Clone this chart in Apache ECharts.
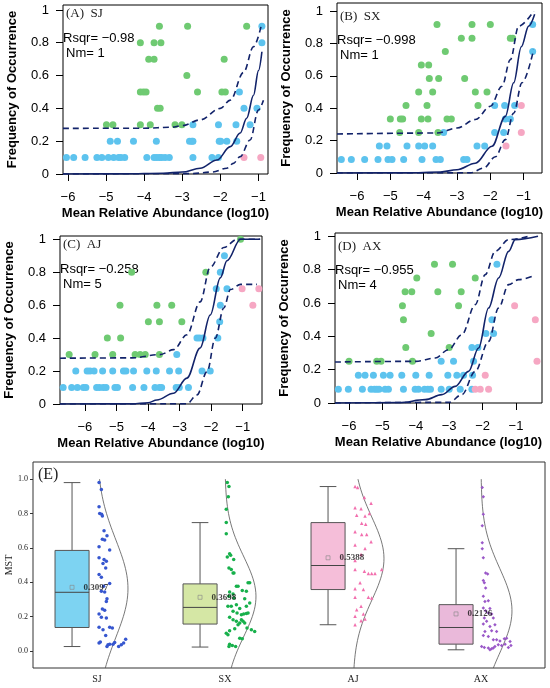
<!DOCTYPE html>
<html>
<head>
<meta charset="utf-8">
<script src="https://cdn.jsdelivr.net/npm/echarts@6/dist/echarts.min.js"></script>
<style>
html, body { margin: 0; padding: 0; background: #fff; }
#main { width: 550px; height: 688px; }
</style>
</head>
<body>
<div id="main"></div>
<script>
// tick values shared by the four neutral-model panels
var xTicks = [-6, -5, -4, -3, -2, -1];
var yTicks = [0, 0.2, 0.4, 0.6, 0.8, 1];

var panelTags = ['(A)  SJ', '(B)  SX', '(C)  AJ', '(D)  AX'];
var rsqrText = ['\u22120.98', '\u22120.998', '\u22120.258', '\u22120.955'];
var nmText = ['1', '1', '5', '4'];

// (A) SJ
var sjBlue = [[-6.04,0.1],[-5.85,0.1],[-5.55,0.1],[-5.24,0.1],[-5.11,0.1],[-4.94,0.1],[-4.80,0.1],[-4.67,0.1],[-4.61,0.1],[-4.51,0.1],
  [-3.93,0.1],[-3.74,0.1],[-3.67,0.1],[-3.60,0.1],[-3.54,0.1],[-3.45,0.1],[-3.34,0.1],[-2.72,0.1],[-2.22,0.1],[-2.05,0.1],
  [-4.89,0.2],[-4.70,0.2],[-4.28,0.2],[-3.68,0.2],[-2.81,0.2],[-2.75,0.2],[-2.72,0.2],[-2.03,0.2],[-1.99,0.2],[-1.83,0.2],[-1.57,0.2],
  [-2.72,0.3],[-2.05,0.3],[-1.59,0.3],[-1.22,0.3],[-1.38,0.4],[-1.04,0.4],[-1.50,0.5],[-0.91,0.8],[-0.91,0.9]];
var sjGreen = [[-4.99,0.3],[-4.82,0.3],[-4.10,0.3],[-3.84,0.3],[-3.19,0.3],[-3.01,0.3],[-3.65,0.4],[-3.58,0.4],
  [-4.10,0.5],[-4.02,0.5],[-3.95,0.5],[-2.60,0.5],[-1.96,0.5],[-1.87,0.5],[-2.88,0.6],[-3.88,0.7],[-3.74,0.7],[-1.90,0.7],
  [-4.10,0.8],[-3.74,0.8],[-3.56,0.8],[-3.60,0.9],[-2.86,0.9],[-1.31,0.9]];
var sjPink = [[-1.38,0.1],[-0.94,0.1]];
var sjFit = [[-6.13,0],[-4.5,0.001],[-3.5,0.005],[-3,0.012],[-2.53,0.035],[-2.09,0.085],[-1.74,0.167],[-1.48,0.25],[-1.31,0.34],[-1.13,0.48],[-1.0,0.63],[-0.91,0.745]];
var sjUpper = [[-6.13,0.278],[-4,0.279],[-3.3,0.285],[-3,0.295],[-2.53,0.33],[-2.0,0.40],[-1.74,0.45],[-1.39,0.62],[-1.13,0.776],[-0.91,0.92]];
var sjLower = [[-6.13,0],[-2.8,0.002],[-2.2,0.012],[-1.83,0.035],[-1.66,0.065],[-1.48,0.106],[-1.22,0.207],[-1.0,0.39],[-0.87,0.45]];

// (B) SX
var sxBlue = [[-6.47,0.083],[-6.17,0.083],[-5.77,0.083],[-5.37,0.083],[-5.07,0.083],[-4.95,0.083],[-4.60,0.083],[-4.05,0.083],[-3.63,0.083],[-3.50,0.083],[-2.80,0.083],[-2.70,0.083],
  [-5.33,0.167],[-5.10,0.167],[-4.50,0.167],[-4.15,0.167],[-3.97,0.167],[-3.73,0.167],[-2.40,0.167],[-2.17,0.167],
  [-3.40,0.25],[-1.87,0.25],[-1.60,0.25],[-1.55,0.333],[-1.40,0.333],[-1.87,0.417],[-1.57,0.417],[-1.27,0.417],[-0.73,0.75],[-0.73,0.917]];
var sxGreen = [[-4.72,0.25],[-4.15,0.25],[-3.57,0.25],[-5.0,0.333],[-4.70,0.333],[-4.63,0.333],[-4.07,0.333],[-3.87,0.333],[-3.30,0.333],[-3.17,0.333],
  [-4.53,0.417],[-3.90,0.417],[-2.37,0.417],[-4.15,0.5],[-3.73,0.5],[-2.45,0.5],[-2.10,0.5],[-3.83,0.583],[-3.55,0.583],[-2.77,0.583],
  [-4.07,0.667],[-3.85,0.667],[-3.35,0.75],[-2.87,0.833],[-2.55,0.833],[-1.40,0.833],[-1.33,0.833],[-3.60,0.917],[-2.55,0.917],[-2.00,0.917]];
var sxPink = [[-1.53,0.167],[-1.07,0.417],[-1.07,0.25]];
var sxFit = [[-6.6,0],[-4.5,0.001],[-3.5,0.006],[-3.0,0.02],[-2.45,0.06],[-1.95,0.165],[-1.55,0.35],[-1.30,0.557],[-1.07,0.78],[-0.85,0.907],[-0.67,0.98]];
var sxUpper = [[-6.6,0.241],[-3.6,0.247],[-3.0,0.278],[-2.45,0.33],[-2.0,0.412],[-1.65,0.536],[-1.40,0.70],[-1.15,0.907],[-0.70,1.0]];
var sxLower = [[-6.6,0],[-2.6,0.001],[-2.2,0.03],[-1.85,0.10],[-1.55,0.206],[-1.30,0.37],[-1.05,0.557],[-0.70,0.763]];

// (C) AJ
var ajBlue = [[-6.69,0.1],[-6.42,0.1],[-6.24,0.1],[-6.05,0.1],[-5.97,0.1],[-5.63,0.1],[-5.54,0.1],[-5.42,0.1],[-5.33,0.1],[-5.05,0.1],
  [-4.97,0.1],[-4.49,0.1],[-4.13,0.1],[-3.78,0.1],[-3.64,0.1],[-3.57,0.1],[-3.11,0.1],[-3.01,0.1],[-2.72,0.1],
  [-6.29,0.2],[-5.93,0.2],[-5.84,0.2],[-5.71,0.2],[-5.44,0.2],[-5.12,0.2],[-4.78,0.2],[-4.70,0.2],[-4.46,0.2],[-4.04,0.2],
  [-3.74,0.2],[-3.32,0.2],[-3.03,0.2],[-2.29,0.2],[-2.03,0.2],[-3.09,0.3],[-2.45,0.4],[-2.37,0.4],[-2.26,0.4],[-1.79,0.4],
  [-1.73,0.5],[-1.71,0.6],[-1.84,0.7],[-1.50,0.7],[-1.71,0.8],[-1.58,0.9]];
var ajGreen = [[-6.50,0.3],[-5.68,0.3],[-5.12,0.3],[-4.41,0.3],[-4.25,0.3],[-4.09,0.3],[-3.64,0.3],[-5.29,0.4],[-4.87,0.4],
  [-3.99,0.5],[-3.64,0.5],[-2.93,0.5],[-4.89,0.6],[-3.72,0.6],[-3.25,0.6],[-4.52,0.8],[-2.17,0.8],[-1.07,1.0]];
var ajPink = [[-1.02,0.7],[-0.49,0.7],[-0.68,0.6]];
var ajFit = [[-6.79,0],[-4.5,0.001],[-4.0,0.008],[-3.72,0.024],[-3.19,0.065],[-2.77,0.157],[-2.35,0.34],[-2.03,0.54],[-1.71,0.766],[-1.5,0.87],[-1.07,1.0],[-0.45,1.0]];
var ajUpper = [[-6.79,0.278],[-4.5,0.28],[-3.62,0.30],[-3.19,0.33],[-2.77,0.42],[-2.35,0.62],[-2.03,0.83],[-1.60,0.95],[-1.18,1.0],[-0.45,1.0]];
var ajLower = [[-6.79,0],[-2.77,0.001],[-2.45,0.055],[-2.13,0.197],[-1.87,0.40],[-1.60,0.583],[-1.39,0.695],[-1.07,0.726],[-0.55,0.726]];

// (D) AX
var axBlue = [[-6.32,0.083],[-6.02,0.083],[-5.60,0.083],[-5.34,0.083],[-5.24,0.083],[-5.17,0.083],[-5.10,0.083],[-4.92,0.083],[-4.82,0.083],[-4.37,0.083],
  [-4.02,0.083],[-3.92,0.083],[-3.74,0.083],[-3.64,0.083],[-3.56,0.083],[-3.24,0.083],[-3.00,0.083],[-2.67,0.083],[-2.32,0.083],
  [-5.72,0.167],[-5.52,0.167],[-5.27,0.167],[-4.97,0.167],[-4.77,0.167],[-4.42,0.167],[-4.00,0.167],[-3.60,0.167],[-3.04,0.167],[-2.77,0.167],[-2.57,0.167],[-2.30,0.167],
  [-3.24,0.25],[-2.87,0.25],[-2.27,0.25],[-2.32,0.333],[-2.14,0.333],[-1.90,0.417],[-1.67,0.417],[-1.72,0.5],[-1.57,0.833]];
var axGreen = [[-6.00,0.25],[-5.17,0.25],[-5.04,0.25],[-4.10,0.25],[-4.30,0.333],[-3.00,0.333],[-3.54,0.417],[-4.37,0.5],[-4.40,0.583],[-2.72,0.583],
  [-4.32,0.667],[-4.12,0.667],[-3.34,0.667],[-2.64,0.667],[-3.97,0.75],[-2.22,0.75],[-3.44,0.833],[-2.90,0.833]];
var axPink = [[-2.22,0.083],[-2.07,0.083],[-1.82,0.083],[-1.92,0.167],[-1.04,0.583],[-0.42,0.5],[-0.37,0.25]];
var axFit = [[-6.42,0],[-4.5,0.002],[-3.72,0.02],[-3.22,0.05],[-2.82,0.10],[-2.42,0.19],[-2.12,0.33],[-1.82,0.57],[-1.52,0.75],[-1.22,0.91],[-1.02,0.98],[-0.34,1.0]];
var axUpper = [[-6.42,0.246],[-4.0,0.25],[-3.42,0.27],[-3.02,0.32],[-2.62,0.41],[-2.22,0.59],[-1.92,0.77],[-1.62,0.91],[-1.22,0.98],[-0.62,1.0]];
var axLower = [[-6.42,0],[-3.0,0.004],[-2.62,0.05],[-2.22,0.19],[-1.82,0.37],[-1.52,0.57],[-1.22,0.71],[-0.92,0.74],[-0.52,0.76]];

// (E) MST per group: [jitter (fraction of band), value]
var groups = ['SJ', 'SX', 'AJ', 'AX'];
var sjMst = [[0.016,0.98],[0.034,0.94],[0.016,0.84],[0.021,0.80],[0.036,0.795],[0.042,0.785],[0.055,0.70],[0.078,0.67],[0.042,0.65],[0.06,0.645],
  [0.016,0.606],[0.099,0.587],[0.016,0.542],[0.055,0.532],[0.073,0.522],[0.047,0.509],[0.068,0.483],[0.016,0.444],[0.034,0.429],[0.099,0.392],
  [0.052,0.376],[0.034,0.347],[0.06,0.343],[0.078,0.304],[0.073,0.288],[0.042,0.244],[0.06,0.236],[0.016,0.214],[0.034,0.195],[0.073,0.191],
  [0.016,0.138],[0.099,0.138],[0.12,0.133],[0.047,0.123],[0.068,0.09],[0.016,0.045],[0.026,0.051],[0.086,0.035],[0.099,0.039],[0.078,0.025],
  [0.125,0.039],[0.138,0.049],[0.169,0.025],[0.19,0.035],[0.208,0.045],[0.224,0.068]];
var sxMst = [[0.018,0.98],[0.031,0.957],[0.026,0.897],[0.010,0.825],[0.010,0.747],[0.010,0.682],[0.036,0.565],[0.044,0.557],[0.068,0.532],[0.018,0.546],
  [0.031,0.483],[0.049,0.474],[0.063,0.454],[0.07,0.454],[0.089,0.376],[0.102,0.376],[0.036,0.343],[0.063,0.331],[0.135,0.351],[0.167,0.347],
  [0.031,0.318],[0.07,0.308],[0.18,0.396],[0.193,0.396],[0.154,0.304],[0.023,0.259],[0.049,0.259],[0.089,0.269],[0.115,0.246],[0.167,0.259],
  [0.193,0.279],[0.063,0.23],[0.094,0.22],[0.128,0.21],[0.146,0.214],[0.167,0.218],[0.18,0.22],[0.036,0.195],[0.063,0.181],[0.089,0.172],
  [0.115,0.162],[0.154,0.162],[0.036,0.117],[0.010,0.103],[0.023,0.094],[0.076,0.129],[0.172,0.133],[0.206,0.123],[0.232,0.113],[0.115,0.074],
  [0.135,0.07],[0.036,0.039],[0.057,0.031],[0.083,0.025],[0.031,0.025],[0.102,0.152],[0.128,0.181],[0.141,0.172]];
var ajMst = [[0.016,0.957],[0.036,0.951],[0.089,0.893],[0.141,0.86],[0.016,0.834],[0.063,0.828],[0.029,0.79],[0.094,0.786],[0.128,0.80],[0.068,0.743],
  [0.099,0.737],[0.016,0.694],[0.068,0.678],[0.107,0.678],[0.141,0.635],[0.016,0.616],[0.094,0.596],[0.063,0.561],[0.016,0.526],[0.089,0.464],
  [0.12,0.45],[0.146,0.45],[0.172,0.45],[0.224,0.474],[0.016,0.474],[0.055,0.396],[0.016,0.361],[0.081,0.357],[0.12,0.312],[0.016,0.312],
  [0.146,0.308],[0.063,0.259],[0.029,0.24],[0.081,0.214],[0.016,0.201],[0.094,0.185],[0.063,0.175],[0.016,0.152]];
var axMst = [[0.010,0.951],[0.018,0.897],[0.018,0.796],[0.010,0.728],[0.010,0.63],[0.010,0.595],[0.018,0.542],[0.036,0.454],[0.052,0.448],[0.018,0.409],
  [0.026,0.396],[0.036,0.366],[0.018,0.318],[0.031,0.288],[0.057,0.292],[0.018,0.25],[0.07,0.246],[0.036,0.234],[0.057,0.22],[0.083,0.214],
  [0.096,0.191],[0.026,0.191],[0.044,0.172],[0.018,0.156],[0.109,0.152],[0.07,0.142],[0.031,0.113],[0.083,0.117],[0.122,0.113],[0.018,0.09],
  [0.057,0.084],[0.096,0.064],[0.122,0.064],[0.148,0.058],[0.182,0.07],[0.2,0.074],[0.227,0.055],[0.005,0.025],[0.026,0.019],[0.057,0.016],
  [0.083,0.012],[0.109,0.025],[0.135,0.035],[0.161,0.031],[0.188,0.039],[0.214,0.019],[0.234,0.031],[0.07,0.006],[0.096,0.016]];

var boxMin = [0.025, 0.022, 0.152, 0.006];
var boxQ1 = [0.136, 0.156, 0.357, 0.039];
var boxMed = [0.341, 0.253, 0.497, 0.136];
var boxQ3 = [0.585, 0.39, 0.747, 0.269];
var boxMax = [0.98, 0.747, 0.957, 0.595];
var meanVals = [0.37, 0.312, 0.542, 0.215];
var meanLabels = ['0.3097', '0.3698', '0.5388', '0.2126'];
var mstTicks = [0, 0.2, 0.4, 0.6, 0.8, 1.0];

var SANS = 'Liberation Sans, Arial, sans-serif';
var SERIF = 'Liberation Serif, Times New Roman, serif';
var navy = '#12236a';
var cBlue = '#5dc3ee', cGreen = '#6fca72', cPink = '#f6a7c3';

var chart = echarts.init(document.getElementById('main'), null, {renderer: 'canvas'});

var panels = [
    {blue: sjBlue, green: sjGreen, pink: sjPink, fit: sjFit, up: sjUpper, lo: sjLower, xmin: -6.13, xmax: -0.75, ymax: 1.03, grid: {left: 63, right: 282, top: 5, bottom: 514}},
    {blue: sxBlue, green: sxGreen, pink: sxPink, fit: sxFit, up: sxUpper, lo: sxLower, xmin: -6.6, xmax: -0.45, ymax: 1.05, grid: {left: 337, right: 8, top: 3, bottom: 515}},
    {blue: ajBlue, green: ajGreen, pink: ajPink, fit: ajFit, up: ajUpper, lo: ajLower, xmin: -6.79, xmax: -0.39, ymax: 1.02, grid: {left: 60, right: 288, top: 236, bottom: 284}},
    {blue: axBlue, green: axGreen, pink: axPink, fit: axFit, up: axUpper, lo: axLower, xmin: -6.42, xmax: -0.22, ymax: 1.02, grid: {left: 335, right: 8, top: 233, bottom: 285}}
];

function fmtMinus(v) {
    return (v < 0 ? '\u2212' : '') + Math.abs(v);
}

var grids = [], xAxes = [], yAxes = [], series = [], graphics = [];

panels.forEach(function (p, i) {
    var g = p.grid;
    grids.push({left: g.left, right: g.right, top: g.top, bottom: g.bottom, outerBoundsMode: 'none',
        show: true, borderColor: '#000', borderWidth: 1, backgroundColor: 'transparent'});
    xAxes.push({
        gridIndex: i, type: 'value', min: p.xmin, max: p.xmax,
        name: 'Mean Relative Abundance (log10)', nameLocation: 'middle', nameGap: 33,
        nameTextStyle: {fontFamily: SANS, fontWeight: 'bold', fontSize: 13, color: '#000'},
        axisLine: {show: false}, splitLine: {show: false},
        axisTick: {show: true, length: 7, customValues: xTicks, lineStyle: {color: '#000'}},
        axisLabel: {customValues: xTicks, margin: 17, formatter: fmtMinus, fontFamily: SANS, fontSize: 13, color: '#000'}
    });
    yAxes.push({
        gridIndex: i, type: 'value', min: 0, max: p.ymax,
        name: 'Frequency of Occurrence', nameLocation: 'middle', nameGap: 44, nameRotate: 90,
        nameTextStyle: {fontFamily: SANS, fontWeight: 'bold', fontSize: 13, color: '#000'},
        axisLine: {show: false}, splitLine: {show: false},
        axisTick: {show: true, length: 7, customValues: yTicks, lineStyle: {color: '#000'}},
        axisLabel: {customValues: yTicks, margin: 14, fontFamily: SANS, fontSize: 13, color: '#000'}
    });
    [[p.blue, cBlue], [p.green, cGreen], [p.pink, cPink]].forEach(function (d) {
        series.push({type: 'scatter', xAxisIndex: i, yAxisIndex: i, data: d[0], symbolSize: 7,
            itemStyle: {color: d[1], opacity: 1}, silent: true, z: 2});
    });
    [[p.fit, 'solid'], [p.up, [6, 4]], [p.lo, [6, 4]]].forEach(function (d) {
        series.push({type: 'line', xAxisIndex: i, yAxisIndex: i, data: d[0], smooth: 0.35, smoothMonotone: 'x',
            showSymbol: false, silent: true, z: 3, lineStyle: {color: navy, width: 1.6, type: d[1]}});
    });
    graphics.push(
        {type: 'text', x: g.left + 3, y: g.top + (i % 2 ? 14 : 9), style: {text: panelTags[i], font: '13px ' + SERIF, fill: '#222', verticalAlign: 'middle'}},
        {type: 'text', x: g.left, y: g.top + (i % 2 ? 37 : 33), style: {text: 'Rsqr= ' + rsqrText[i], font: '13px ' + SANS, fill: '#000', verticalAlign: 'middle'}},
        {type: 'text', x: g.left + 3, y: g.top + (i % 2 ? 52 : 48), style: {text: 'Nm= ' + nmText[i], font: '13px ' + SANS, fill: '#000', verticalAlign: 'middle'}}
    );
});

// ---- panel E ----
var boxShift = -0.195, boxHalf = 0.133, capHalf = 0.065, violinWidth = 0.242;
var boxFill = ['#7dd3f2', '#d5e7a5', '#f5bed9', '#eab9da'];
var dotColor = ['#3656cf', '#17b04b', '#f26fae', '#9a58c8'];
var dotShape = ['circle', 'circle', 'triangle', 'diamond'];
var mstSets = [sjMst, sxMst, ajMst, axMst];

grids.push({left: 33, right: 5, top: 462, bottom: 20, outerBoundsMode: 'none',
    show: true, borderColor: '#333', borderWidth: 1, backgroundColor: 'transparent'});
xAxes.push({
    gridIndex: 4, type: 'category', data: groups,
    axisLine: {show: false}, splitLine: {show: false},
    axisTick: {alignWithLabel: true, length: 4, lineStyle: {color: '#333'}},
    axisLabel: {fontFamily: SERIF, fontSize: 10, color: '#222', margin: 6}
});
xAxes.push({gridIndex: 4, type: 'value', min: 0, max: 4, show: false});
yAxes.push({
    gridIndex: 4, type: 'value', min: -0.1, max: 1.1,
    name: 'MST', nameLocation: 'middle', nameGap: 19, nameRotate: 90, nameMoveOverlap: false,
    nameTextStyle: {fontFamily: SERIF, fontSize: 10, color: '#222'},
    axisLine: {show: false}, splitLine: {show: false},
    axisTick: {show: true, length: 3, customValues: mstTicks, lineStyle: {color: '#333'}},
    axisLabel: {customValues: mstTicks, margin: 5, fontFamily: SERIF, fontSize: 8, color: '#222',
        formatter: function (v) { return v.toFixed(1); }}
});

var boxData = groups.map(function (g, i) {
    return [i, boxMin[i], boxQ1[i], boxMed[i], boxQ3[i], boxMax[i]];
});

series.push({
    type: 'custom', xAxisIndex: 5, yAxisIndex: 4, data: boxData, silent: true, z: 2,
    renderItem: function (params, api) {
        var i = api.value(0);
        var c = i + 0.5 + boxShift;
        var pt = function (x, y) { return api.coord([x, y]); };
        var lo = pt(c, api.value(1)), q1 = pt(c, api.value(2)), md = pt(c, api.value(3)),
            q3 = pt(c, api.value(4)), hi = pt(c, api.value(5));
        var bl = pt(c - boxHalf, 0)[0], br = pt(c + boxHalf, 0)[0];
        var cl = pt(c - capHalf, 0)[0], cr = pt(c + capHalf, 0)[0];
        var ls = {stroke: '#555', lineWidth: 1};
        return {type: 'group', children: [
            {type: 'line', shape: {x1: lo[0], y1: lo[1], x2: q1[0], y2: q1[1]}, style: ls},
            {type: 'line', shape: {x1: q3[0], y1: q3[1], x2: hi[0], y2: hi[1]}, style: ls},
            {type: 'line', shape: {x1: cl, y1: lo[1], x2: cr, y2: lo[1]}, style: ls},
            {type: 'line', shape: {x1: cl, y1: hi[1], x2: cr, y2: hi[1]}, style: ls},
            {type: 'rect', shape: {x: bl, y: q3[1], width: br - bl, height: q1[1] - q3[1]},
                style: {fill: boxFill[i], stroke: '#555', lineWidth: 1}},
            {type: 'line', shape: {x1: bl, y1: md[1], x2: br, y2: md[1]}, style: {stroke: '#444', lineWidth: 1}}
        ]};
    }
});

series.push({
    type: 'scatter', xAxisIndex: 5, yAxisIndex: 4, silent: true, z: 4,
    data: meanVals.map(function (v, i) { return [i + 0.5 + boxShift, v]; }),
    symbol: 'rect', symbolSize: 4,
    itemStyle: {color: 'rgba(255,255,255,0)', borderColor: '#888', borderWidth: 0.8},
    label: {show: true, position: 'right', distance: 9, fontFamily: SERIF, fontWeight: 'bold', fontSize: 9, color: '#111',
        formatter: function (p) { return meanLabels[p.dataIndex]; }}
});

mstSets.forEach(function (set, i) {
    series.push({
        type: 'scatter', xAxisIndex: 5, yAxisIndex: 4, silent: true, z: 3,
        data: set.map(function (d) { return [i + 0.5 + d[0], d[1]]; }),
        symbol: dotShape[i], symbolSize: 3.5, itemStyle: {color: dotColor[i], opacity: 1}
    });
    // half violin: normal density of the group's values
    var vals = set.map(function (d) { return d[1]; });
    var m = vals.reduce(function (a, b) { return a + b; }, 0) / vals.length;
    var s = Math.sqrt(vals.reduce(function (a, b) { return a + (b - m) * (b - m); }, 0) / (vals.length - 1));
    var curve = [];
    for (var k = 0; k <= 110; k++) {
        var y = -0.1 + k * 0.01;
        curve.push([i + 0.5 + violinWidth * Math.exp(-(y - m) * (y - m) / (2 * s * s)), y]);
    }
    series.push({type: 'line', xAxisIndex: 5, yAxisIndex: 4, data: curve, showSymbol: false, silent: true, z: 3,
        lineStyle: {color: '#555', width: 0.8}});
});

graphics.push({type: 'text', x: 38, y: 475, style: {text: '(E)', font: '16px ' + SERIF, fill: '#222', verticalAlign: 'middle'}});

chart.setOption({
    animation: false,
    backgroundColor: '#fff',
    grid: grids,
    xAxis: xAxes,
    yAxis: yAxes,
    series: series,
    graphic: graphics
});
</script>
</body>
</html>
